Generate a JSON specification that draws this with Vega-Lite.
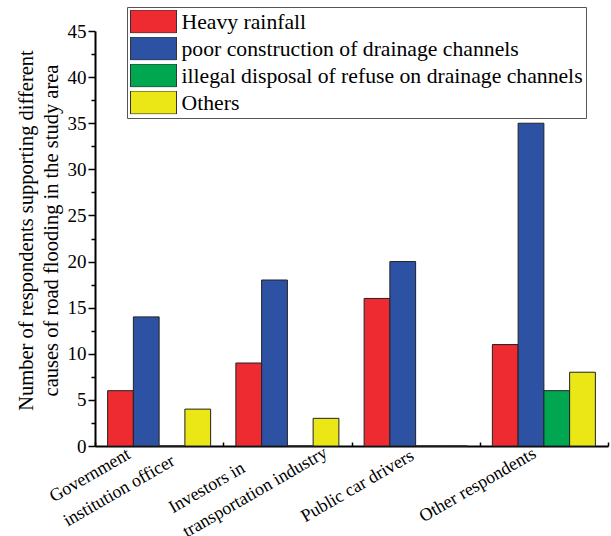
{
  "$schema": "https://vega.github.io/schema/vega-lite/v6.json",
  "width": 513,
  "height": 415,
  "autosize": {"type": "none"},
  "padding": {"left": 95, "top": 31, "right": 3, "bottom": 90},
  "data": {
    "values": [
      {"group": "Government institution officer", "cause": "Heavy rainfall", "count": 6},
      {"group": "Government institution officer", "cause": "poor construction of drainage channels", "count": 14},
      {"group": "Government institution officer", "cause": "illegal disposal of refuse on drainage channels", "count": 0},
      {"group": "Government institution officer", "cause": "Others", "count": 4},
      {"group": "Investors in transportation industry", "cause": "Heavy rainfall", "count": 9},
      {"group": "Investors in transportation industry", "cause": "poor construction of drainage channels", "count": 18},
      {"group": "Investors in transportation industry", "cause": "illegal disposal of refuse on drainage channels", "count": 0},
      {"group": "Investors in transportation industry", "cause": "Others", "count": 3},
      {"group": "Public car drivers", "cause": "Heavy rainfall", "count": 16},
      {"group": "Public car drivers", "cause": "poor construction of drainage channels", "count": 20},
      {"group": "Public car drivers", "cause": "illegal disposal of refuse on drainage channels", "count": 0},
      {"group": "Public car drivers", "cause": "Others", "count": 0},
      {"group": "Other respondents", "cause": "Heavy rainfall", "count": 11},
      {"group": "Other respondents", "cause": "poor construction of drainage channels", "count": 35},
      {"group": "Other respondents", "cause": "illegal disposal of refuse on drainage channels", "count": 6},
      {"group": "Other respondents", "cause": "Others", "count": 8}
    ]
  },
  "mark": {"type": "bar", "stroke": "#222222", "strokeWidth": 1},
  "encoding": {
    "x": {
      "field": "group",
      "type": "nominal",
      "sort": ["Government institution officer", "Investors in transportation industry", "Public car drivers", "Other respondents"],
      "scale": {"paddingInner": 0, "paddingOuter": 0},
      "axis": {
        "title": null,
        "domainColor": "black",
        "domainWidth": 2,
        "ticks": true,
        "tickBand": "extent",
        "tickSize": -4,
        "tickColor": "black",
        "tickWidth": 1.5,
        "labelAngle": -30,
        "labelAlign": "left",
        "labelBaseline": "alphabetic",
        "labelFont": "Liberation Serif",
        "labelFontSize": 18,
        "labelColor": "black",
        "labelLineHeight": 28,
        "labelOverlap": false,
        "labelBound": false,
        "labelLimit": 300,
        "labelExpr": "datum.value === 'Government institution officer' ? ['Government', 'institution officer'] : datum.value === 'Investors in transportation industry' ? ['Investors in', 'transportation industry'] : datum.label",
        "labelOffset": {
          "condition": [
            {"test": "datum.value === 'Government institution officer'", "value": -106},
            {"test": "datum.value === 'Investors in transportation industry'", "value": -115},
            {"test": "datum.value === 'Public car drivers'", "value": -111}
          ],
          "value": -121
        },
        "labelPadding": {
          "condition": [
            {"test": "datum.value === 'Government institution officer'", "value": 60},
            {"test": "datum.value === 'Investors in transportation industry'", "value": 71}
          ],
          "value": 80
        }
      }
    },
    "xOffset": {
      "field": "cause",
      "sort": ["Heavy rainfall", "poor construction of drainage channels", "illegal disposal of refuse on drainage channels", "Others"],
      "scale": {"paddingInner": 0, "paddingOuter": 0.49}
    },
    "y": {
      "field": "count",
      "type": "quantitative",
      "scale": {"domain": [0, 45], "nice": false},
      "axis": {
        "title": ["Number of respondents supporting different", "causes of road flooding in the study area"],
        "titleFont": "Liberation Serif",
        "titleFontSize": 20.5,
        "titleFontWeight": "normal",
        "titleColor": "black",
        "titleLineHeight": 25,
        "titlePadding": 6,
        "titleY": 199,
        "values": [0, 2.5, 5, 7.5, 10, 12.5, 15, 17.5, 20, 22.5, 25, 27.5, 30, 32.5, 35, 37.5, 40, 42.5, 45],
        "labelExpr": "datum.value % 5 === 0 ? datum.label : ''",
        "tickSize": {"condition": {"test": "datum.value % 5 !== 0", "value": 4}, "value": 7},
        "tickColor": "black",
        "tickWidth": 1.5,
        "domainColor": "black",
        "domainWidth": 2,
        "labelFont": "Liberation Serif",
        "labelFontSize": 19,
        "labelColor": "black",
        "labelPadding": 2,
        "labelOverlap": false,
        "grid": false
      }
    },
    "color": {
      "field": "cause",
      "type": "nominal",
      "scale": {
        "domain": ["Heavy rainfall", "poor construction of drainage channels", "illegal disposal of refuse on drainage channels", "Others"],
        "range": ["#ed2b30", "#2e52a3", "#00a650", "#ebe716"]
      },
      "legend": {
        "title": null,
        "orient": "none",
        "legendX": 32,
        "legendY": -24,
        "direction": "vertical",
        "symbolType": "M-2,-1H2V1H-2Z",
        "symbolSize": 529,
        "symbolOffset": 11.5,
        "symbolStrokeColor": "#333333",
        "symbolStrokeWidth": 1,
        "clipHeight": 23,
        "labelOffset": 16,
        "labelFont": "Liberation Serif",
        "labelFontSize": 21.7,
        "labelColor": "black",
        "labelLimit": 1000,
        "rowPadding": 3,
        "padding": 3,
        "strokeColor": "#555555",
        "fillColor": "white"
      }
    }
  },
  "config": {"view": {"stroke": null}, "font": "Liberation Serif"}
}
